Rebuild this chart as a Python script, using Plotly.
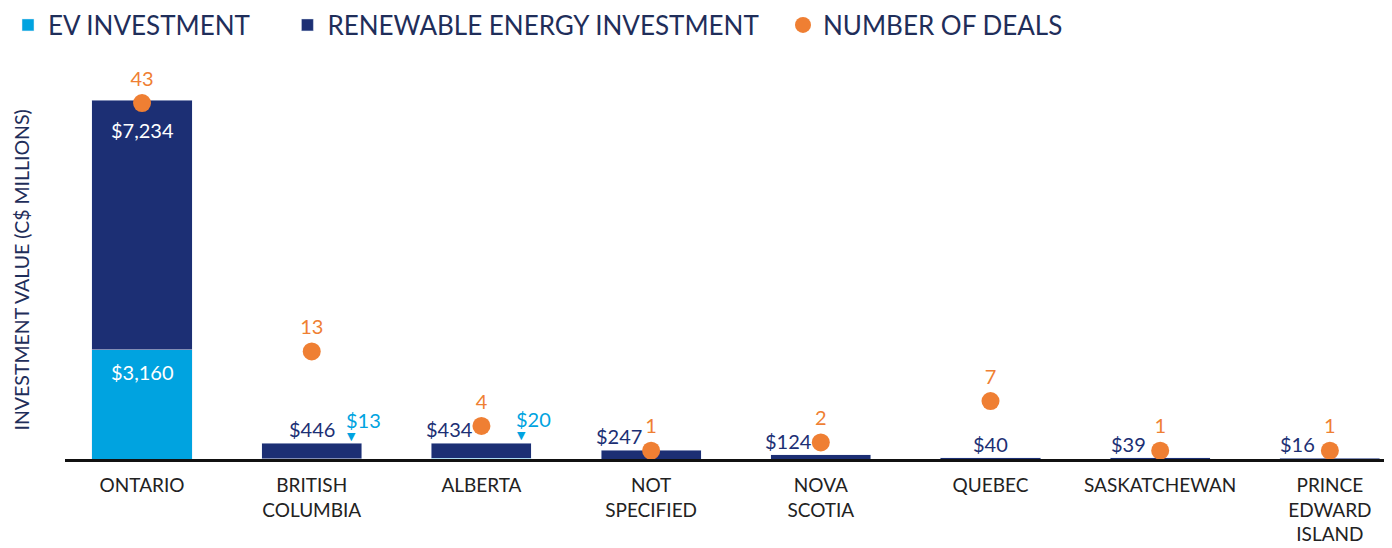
import plotly.graph_objects as go

categories = ["ONTARIO", "BRITISH<br>COLUMBIA", "ALBERTA", "NOT<br>SPECIFIED", "NOVA<br>SCOTIA",
              "QUEBEC", "SASKATCHEWAN", "PRINCE<br>EDWARD<br>ISLAND"]
ev_investment = [3160, 13, 20, 0, 0, 0, 0, 0]
renewable_investment = [7234, 446, 434, 247, 124, 40, 39, 16]
number_of_deals = [43, 13, 4, 1, 2, 7, 1, 1]

EV_C = "#00A3E0"
NAVY = "#1C2F74"
ORANGE = "#EF7F33"
FONT = "Lato"
NB = "\u00a0"

fig = go.Figure()
fig.add_trace(go.Bar(x=categories, y=ev_investment, name="EV INVESTMENT" + NB * 5,
                     marker_color=EV_C, width=0.59))
fig.add_trace(go.Bar(x=categories, y=renewable_investment,
                     name="RENEWABLE ENERGY INVESTMENT" + NB * 3,
                     marker_color=NAVY, width=0.59))
fig.add_trace(go.Scatter(x=categories, y=number_of_deals, name="NUMBER OF DEALS", yaxis="y2",
                         mode="markers+text", text=[str(v) for v in number_of_deals],
                         textposition="top center",
                         textfont=dict(color=ORANGE, size=20, family=FONT),
                         marker=dict(color=ORANGE, size=18)))

def money(v):
    return "${:,}".format(v)

ann = []
for i, c in enumerate(categories):
    ev = ev_investment[i]
    re_ = renewable_investment[i]
    total = ev + re_
    if ev > 1000:
        ann.append(dict(x=c, y=ev, text=money(ev), showarrow=False, yanchor="top", yshift=-8,
                        font=dict(color="white", size=20, family=FONT)))
        ann.append(dict(x=c, y=total, text=money(re_), showarrow=False, yanchor="top", yshift=-16,
                        font=dict(color="white", size=20, family=FONT)))
    else:
        shift = -32 if number_of_deals[i] <= 4 else 0
        ann.append(dict(x=c, y=total, text=money(re_), showarrow=False, yanchor="bottom",
                        yshift=0, xshift=shift,
                        font=dict(color=NAVY, size=20, family=FONT)))
        if ev > 0:
            ann.append(dict(x=c, y=ev, text="▼", showarrow=False, yanchor="bottom", yshift=14,
                            xshift=40, font=dict(color=EV_C, size=11, family="DejaVu Sans")))
            ann.append(dict(x=c, y=ev, text=money(ev), showarrow=False, yanchor="bottom", yshift=25,
                            xshift=52, font=dict(color=EV_C, size=20, family=FONT)))

ann.append(dict(text="INVESTMENT VALUE (C$ MILLIONS)", textangle=-90, showarrow=False,
                xref="paper", yref="paper", x=0, y=0.5, xanchor="center", yanchor="middle",
                xshift=-44, yshift=-11, font=dict(size=19.5, color="#1F2E5A", family=FONT)))

fig.update_layout(
    width=1384, height=540,
    barmode="stack",
    paper_bgcolor="white", plot_bgcolor="white",
    margin=dict(l=57, r=0, t=52, b=89, autoexpand=False),
    font=dict(family=FONT, color="#222222"),
    showlegend=True,
    legend=dict(orientation="h", traceorder="normal", xref="container", x=0,
                yref="container", y=0.9685, xanchor="left", yanchor="middle",
                font=dict(size=26, color="#1F2E5A", family=FONT)),
    xaxis=dict(range=[-0.454, 7.366], showline=True, linecolor="#111111", linewidth=3,
               ticks="", tickfont=dict(size=19, color="#222222", family=FONT), showgrid=False,
               automargin=False, ticklabelstandoff=7),
    yaxis=dict(range=[0, 11552], showticklabels=False, showgrid=False, zeroline=False,
               automargin=False),
    yaxis2=dict(range=[0, 48.2], overlaying="y", side="right", showticklabels=False,
                showgrid=False, zeroline=False, automargin=False),
    annotations=ann,
)

fig.write_html("out.html")
